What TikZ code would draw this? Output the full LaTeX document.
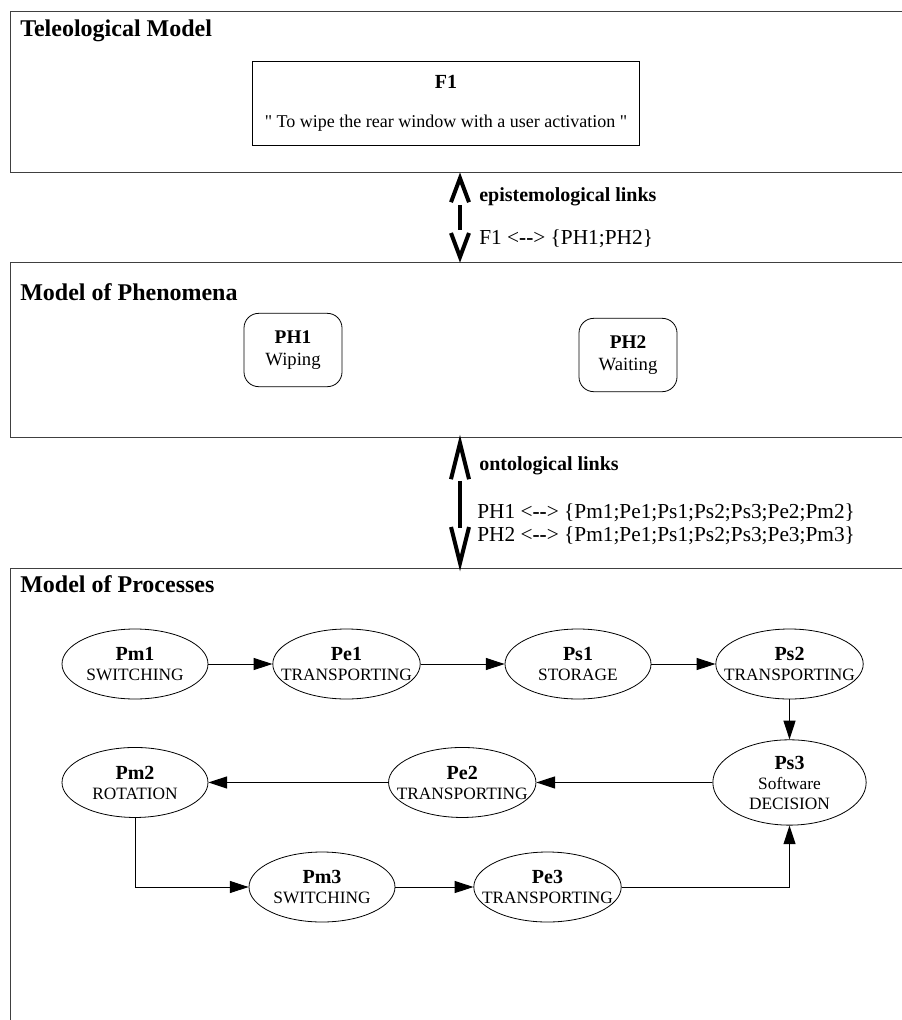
\documentclass[tikz,border=0pt]{standalone}
\usepackage{fontspec}
\setmainfont{Liberation Serif}
\newfontfamily\rawserif{Liberation Serif}
\usetikzlibrary{shapes.geometric,arrows.meta,positioning,calc}

\begin{document}
\begin{tikzpicture}[
    x=0.75pt, y=-0.75pt,
    panel/.style={rectangle, draw=black!75, line width=0.9pt, anchor=north west, inner sep=0pt, minimum width=690pt},
    paneltitle/.style={anchor=west, inner sep=0pt, font=\fontsize{18}{20}\selectfont\bfseries},
    fbox/.style={rectangle, draw, line width=0.7pt, minimum width=290pt, minimum height=63pt, align=center},
    phen/.style={rectangle, rounded corners=11pt, draw, line width=0.6pt, minimum width=73.5pt, minimum height=55pt, align=center, font=\fontsize{14}{16}\selectfont},
    proc/.style={ellipse, draw, line width=0.6pt, minimum width=109.5pt, minimum height=52.5pt, inner xsep=-10pt, inner ysep=0pt, align=center, font=\fontsize{13}{15}\selectfont},
    flow/.style={-{Triangle[length=14pt,width=9pt]}, line width=0.75pt},
    link/.style={line width=3pt},
    chev/.style={line width=3pt, line join=miter},
    linklabel/.style={anchor=west, inner sep=0pt, align=left, font=\fontsize{16}{17.5}\selectfont}
]
\clip (0,0) rectangle (902,1020);

% the three models
\node[panel, minimum height=120.75pt] (teleo) at (10,11) {};
\node[panel, minimum height=131.25pt] (pheno) at (10,262) {};
\node[panel, minimum height=400pt] (procs) at (10,568) {};
\node[paneltitle] (tteleo) at (20,31) {Teleological Model};
\node[paneltitle] (tpheno) at (20,292) {Model of Phenomena};
\node[paneltitle] (tprocs) at (20,584) {Model of Processes};

% teleological model
\node[fbox] (f1) at (446,103) {{\fontsize{15}{16}\selectfont\bfseries F1}\\[17pt]
    {\rawserif\fontsize{13.5}{15}\selectfont " To wipe the rear window with a user activation "}};

% phenomena
\node[phen] (ph1) at (293,350) {{\bfseries\fontsize{14.5}{16}\selectfont PH1}\\[1pt]Wiping};
\node[phen] (ph2) at (628,355) {{\bfseries\fontsize{14.5}{16}\selectfont PH2}\\[1pt]Waiting};

% links between models
\coordinate (lk) at (460,0);
\draw[link, shorten <=24pt, shorten >=24pt] (lk |- teleo.south) -- (lk |- pheno.north);
\draw[chev] (lk |- teleo.south) ++(-9,29) -- ++(9,-24) -- ++(9,24);
\draw[chev] (lk |- pheno.north) ++(-9,-29) -- ++(9,24) -- ++(9,-24);
\draw[link, shorten <=32pt, shorten >=30pt] (lk |- pheno.south) -- (lk |- procs.north);
\draw[chev] (lk |- pheno.south) ++(-9,41) -- ++(9,-36) -- ++(9,36);
\draw[chev] (lk |- procs.north) ++(-9,-41) -- ++(9,36) -- ++(9,-36);
\node[linklabel, font=\fontsize{15}{17}\selectfont\bfseries] (epi) at (479,197) {epistemological links};
\node[linklabel] (epimap) at (479,239) {F1 <\textbf{-{}-}> \{PH1;PH2\}};
\node[linklabel, font=\fontsize{15}{17}\selectfont\bfseries] (onto) at (479,466) {ontological links};
\node[linklabel] (ontomap) at (477,524) {PH1 <\textbf{-{}-}> \{Pm1;Pe1;Ps1;Ps2;Ps3;Pe2;Pm2\}\\
    PH2 <\textbf{-{}-}> \{Pm1;Pe1;Ps1;Ps2;Ps3;Pe3;Pm3\}};

% processes
\node[proc] (pm1) at (135,664) {{\bfseries\fontsize{15}{16}\selectfont Pm1}\\SWITCHING};
\node[proc, right=48pt of pm1] (pe1) {{\bfseries\fontsize{15}{16}\selectfont Pe1}\\TRANSPORTING};
\node[proc, right=63pt of pe1] (ps1) {{\bfseries\fontsize{15}{16}\selectfont Ps1}\\STORAGE};
\node[proc, right=48pt of ps1] (ps2) {{\bfseries\fontsize{15}{16}\selectfont Ps2}\\TRANSPORTING};
\node[proc, minimum width=115pt, minimum height=64pt, below=30pt of ps2] (ps3) {{\bfseries\fontsize{15}{16}\selectfont Ps3}\\Software\\DECISION};
\node[proc] (pm2) at (pm1 |- ps3) {{\bfseries\fontsize{15}{16}\selectfont Pm2}\\ROTATION};
\node[proc] (pe2) at ($(pm2)!0.5!(ps3)$) {{\bfseries\fontsize{15}{16}\selectfont Pe2}\\TRANSPORTING};
\node[proc] (pm3) at (322,887) {{\bfseries\fontsize{15}{16}\selectfont Pm3}\\SWITCHING};
\node[proc, right=58.5pt of pm3] (pe3) {{\bfseries\fontsize{15}{16}\selectfont Pe3}\\TRANSPORTING};

\draw[flow] (pm1) -- (pe1);
\draw[flow] (pe1) -- (ps1);
\draw[flow] (ps1) -- (ps2);
\draw[flow] (ps2) -- (ps3);
\draw[flow] (ps3) -- (pe2);
\draw[flow] (pe2) -- (pm2);
\draw[flow] (pm2.south) |- (pm3.west);
\draw[flow] (pm3) -- (pe3);
\draw[flow] (pe3.east) -| (ps3.south);

\end{tikzpicture}
\end{document}
